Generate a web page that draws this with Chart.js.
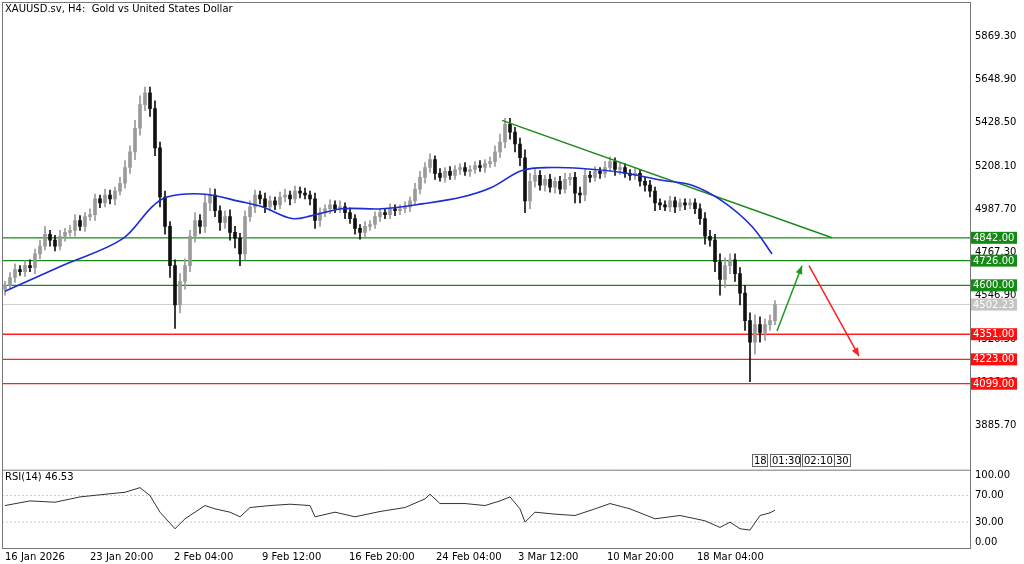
<!DOCTYPE html>
<html><head><meta charset="utf-8">
<script src="https://cdn.jsdelivr.net/npm/chart.js@4/dist/chart.umd.min.js"></script>
<style>html,body{margin:0;padding:0;background:#fff}canvas{display:block}</style>
</head><body>
<div style="width:1024px;height:564px"><canvas id="c"></canvas></div>
<script>
const title = "XAUUSD.sv, H4:  Gold vs United States Dollar";
const closes = [4600,4640,4680,4670,4700,4690,4760,4800,4860,4830,4800,4850,4870,4880,4930,4900,4950,4960,5040,5020,
5060,5040,5080,5120,5200,5280,5400,5520,5580,5500,5300,5050,4900,4700,4500,4620,4700,4850,4930,4900,
5020,5060,4980,4920,4950,4870,4840,4760,4950,5000,5060,5040,5000,5030,5010,5050,5060,5040,5080,5070,
5060,5040,4930,4970,4990,5010,4990,5000,4970,4940,4890,4870,4900,4910,4950,4970,4960,4990,4980,4990,
5000,5030,5090,5150,5200,5240,5170,5150,5180,5160,5190,5200,5180,5190,5210,5200,5220,5230,5280,5330,
5420,5380,5320,5250,5030,5130,5160,5110,5140,5100,5130,5090,5140,5150,5070,5060,5160,5150,5180,5170,
5200,5230,5190,5200,5170,5160,5170,5130,5110,5080,5020,5010,5000,5030,5000,5020,5010,5020,4990,4940,
4850,4830,4720,4630,4700,4730,4660,4560,4420,4310,4400,4360,4400,4420,4502];
const firstOpen = 4580;
const upWick = [20,25,30,20,25,30,25,30,40,20,25,30,20,25,30,25,20,30,25,20,
30,25,20,30,35,30,40,45,30,30,40,30,30,25,30,40,35,30,40,30,
40,35,30,25,30,35,30,25,30,30,25,20,30,25,20,25,30,20,25,20,
25,20,30,25,20,25,20,30,20,25,20,20,25,20,25,20,20,25,20,20,
25,20,30,30,25,30,20,25,20,25,20,20,25,20,20,25,20,25,30,40,
30,30,25,30,40,40,30,25,20,25,20,25,30,20,25,30,30,20,25,20,
30,25,20,25,20,20,25,20,20,25,20,20,20,25,20,20,20,20,20,25,
30,30,30,40,40,30,30,30,40,40,50,40,30,30,20];
const downWick = [30,20,25,20,25,20,30,25,20,30,25,20,25,20,30,20,25,20,30,25,
20,25,30,20,25,30,40,35,30,40,40,50,40,60,120,40,40,30,30,35,
30,40,30,40,30,40,50,60,30,25,30,25,30,20,25,20,25,30,20,25,
20,30,40,30,20,25,20,20,30,25,30,35,25,20,20,25,20,20,25,20,
20,25,20,25,30,25,30,20,25,20,20,25,20,25,20,20,25,20,25,30,
30,35,40,40,60,40,30,25,30,25,30,25,20,30,50,40,30,25,20,25,
20,20,30,25,20,25,20,25,30,30,40,25,20,25,30,20,25,20,25,30,
40,30,50,80,40,40,40,60,50,200,60,50,40,30,20];
const maPts = [[0,4570],[11.4,4700],[23.4,4835],[29.4,5000],[32.4,5050],[39.4,5065],[47.4,5025],[51.4,5000],[57.4,4940],[61.4,4955],[67.4,4990],[75.4,4990],[83.4,5015],[91.4,5050],[97.4,5100],[103.4,5185],[109.4,5200],[115.4,5195],[123.4,5175],[131.4,5135],[137.4,5110],[143.4,5030],[149.4,4900],[153.4,4760]];
const rsiPts = [[0,55],[5,62],[10,60],[15,68],[20,72],[24,75],[27,82],[29,70],[31,45],[34,20],[36,35],[38,45],[40,55],[42,50],[45,45],[47,38],[49,52],[53,55],[57,57],[61,55],[62,38],[66,45],[70,38],[75,46],[80,52],[84,65],[85,72],[87,58],[92,58],[96,55],[99,62],[101,68],[103,50],[104,30],[106,45],[110,42],[114,40],[118,50],[121,58],[125,50],[130,35],[135,40],[140,32],[143,22],[145,30],[147,20],[149,18],[151,40],[153,44],[154,48]];
const greenLevels = [4842,4726,4600];
const redLevels = [4351,4223,4099];
const bidPrice = 4502.23;
const trendLine = [[99.4,5440],[165.4,4842]];
const upArrow = [[154.4,4367],[159.4,4700]];
const downArrow = [[160.8,4700],[170.8,4239]];
const priceTicks = [5869.30,5648.90,5428.50,5208.10,4987.70,4767.30,4546.90,4326.50,4106.10,3885.70];
const rsiTicks = [100,70,30,0];
const dateTicks = [0,17,33.8,51.4,68.8,86.2,102.6,120.4,138.4];
const dateLabels = ["16 Jan 2026","23 Jan 20:00","2 Feb 04:00","9 Feb 12:00","16 Feb 20:00","24 Feb 04:00","3 Mar 12:00","10 Mar 20:00","18 Mar 04:00"];
const rsiLabel = "RSI(14) 46.53";

const XMAX = 193;
const FONT = "'DejaVu Sans'";
const opens = closes.map((c,i)=> i===0 ? firstOpen : closes[i-1]);
const bodies = closes.map((c,i)=>({x:i,y:[opens[i],c]}));
const wicks = closes.map((c,i)=>({x:i,y:[Math.min(opens[i],c)-downWick[i], Math.max(opens[i],c)+upWick[i]]}));
const colOf = closes.map((c,i)=> c>=opens[i] ? '#9a9a9a' : '#111');
const hline = (v,col,w)=>({type:'line',data:[{x:-0.6,y:v},{x:XMAX,y:v}],borderColor:col,borderWidth:w,pointRadius:0,yAxisID:'y',order:5});
const ptsLine = (arr,col,w,yid)=>({type:'line',data:arr.map(p=>({x:p[0],y:p[1]})),borderColor:col,borderWidth:w,pointRadius:0,yAxisID:yid,tension:0.35,order:0});

const datasets = [
  {type:'bar',data:wicks,backgroundColor:colOf,barThickness:1,grouped:false,yAxisID:'y',order:3},
  {type:'bar',data:bodies,backgroundColor:colOf,borderColor:colOf,barThickness:3,grouped:false,yAxisID:'y',order:2,minBarLength:1},
  ...greenLevels.map(v=>hline(v,'#1a8a1a',1.3)),
  ...redLevels.map(v=>hline(v,'#ff2020',1.3)),
  hline(bidPrice,'#cfcfcf',1),
  ptsLine(maPts,'#1c2bd6',1.6,'y'),
  {...ptsLine(trendLine,'#1a8a1a',1.5,'y'),tension:0},
  {...ptsLine(upArrow,'#1a9a1a',1.5,'y'),tension:0},
  {...ptsLine(downArrow,'#ff2020',1.5,'y'),tension:0},
  {...ptsLine(rsiPts,'#333',1,'y2'),tension:0},
  {type:'line',data:[{x:-0.6,y:70},{x:XMAX,y:70}],borderColor:'#c8c8c8',borderDash:[2,2],borderWidth:1,pointRadius:0,yAxisID:'y2'},
  {type:'line',data:[{x:-0.6,y:30},{x:XMAX,y:30}],borderColor:'#c8c8c8',borderDash:[2,2],borderWidth:1,pointRadius:0,yAxisID:'y2'}
];

const overlay = {
  id:'overlay',
  afterDatasetsDraw(ch){
    const c=ch.ctx, y=ch.scales.y, x=ch.scales.x, a=ch.chartArea, y2=ch.scales.y2;
    c.save();
    [[upArrow,'#1a9a1a'],[downArrow,'#ff2020']].forEach(([arr,col])=>{
      const x1=x.getPixelForValue(arr[0][0]), y1=y.getPixelForValue(arr[0][1]);
      const x2=x.getPixelForValue(arr[1][0]), y2p=y.getPixelForValue(arr[1][1]);
      const ang=Math.atan2(y2p-y1,x2-x1);
      c.fillStyle=col;c.beginPath();c.moveTo(x2,y2p);
      c.lineTo(x2-9*Math.cos(ang-0.4),y2p-9*Math.sin(ang-0.4));
      c.lineTo(x2-9*Math.cos(ang+0.4),y2p-9*Math.sin(ang+0.4));
      c.closePath();c.fill();
    });
    c.font='10px '+FONT; c.textBaseline='middle';
    c.strokeStyle='#777';c.lineWidth=1;
    c.beginPath();c.moveTo(a.left,y.bottom+0.5);c.lineTo(a.right,y.bottom+0.5);c.stroke();
    c.strokeRect(a.left+0.5,a.top+0.5,a.right-a.left,a.bottom-a.top);
    const tag=(v,bg,fg)=>{const py=y.getPixelForValue(v);c.fillStyle=bg;c.fillRect(a.right+1,py-6,46,12);c.fillStyle=fg;c.textAlign='left';c.fillText(v.toFixed(2),a.right+3,py+0.5);};
    greenLevels.forEach(v=>tag(v,'#138a13','#fff'));
    redLevels.forEach(v=>tag(v,'#ff1010','#fff'));
    tag(bidPrice,'#c4c4c4','#fff');
    c.fillStyle='#000';c.textAlign='left';
    c.fillText(title,a.left+3,9);
    c.fillText(rsiLabel,a.left+3,y2.top+8);
    c.strokeStyle='#666';c.fillStyle='#000';
    [['18',752,15],['01:30',770,30],['02:10',802,32],['30',834,16]].forEach(([t,px,w])=>{
      c.strokeRect(px+0.5,454.5,w,12);c.fillText(t,px+2,461);
    });
    c.restore();
  }
};

new Chart(document.getElementById('c'),{
  data:{datasets},
  options:{
    responsive:true,maintainAspectRatio:false,animation:false,
    layout:{padding:{left:2,top:2,right:4,bottom:0}},
    plugins:{legend:{display:false},tooltip:{enabled:false}},
    scales:{
      x:{type:'linear',min:-0.6,max:XMAX,offset:false,
        grid:{display:false,drawTicks:false},border:{display:false},
        afterBuildTicks(s){s.ticks=dateTicks.map(v=>({value:v}));},
        afterFit(s){s.height=16;s.paddingLeft=0;s.paddingRight=0;},
        ticks:{autoSkip:false,maxRotation:0,align:'start',padding:3,color:'#000',font:{family:FONT,size:10},
          callback:(v)=>{const k=dateTicks.indexOf(v);return k>=0?dateLabels[k]:'';}}},
      y:{type:'linear',position:'right',stack:'p',stackWeight:466,min:3661,max:6043,
        grid:{display:false,drawTicks:false},border:{color:'#777'},
        afterBuildTicks(s){s.ticks=priceTicks.map(v=>({value:v}));},
        afterFit(s){s.width=50;s.paddingTop=0;s.paddingBottom=0;},
        ticks:{autoSkip:false,color:'#000',padding:5,font:{family:FONT,size:10},callback:v=>v.toFixed(2)}},
      y2:{type:'linear',position:'right',stack:'p',stackWeight:78,min:-9,max:109,
        grid:{display:false,drawTicks:false},border:{color:'#777'},
        afterBuildTicks(s){s.ticks=rsiTicks.map(v=>({value:v}));},
        afterFit(s){s.width=50;s.paddingTop=0;s.paddingBottom=0;},
        ticks:{autoSkip:false,color:'#000',padding:5,font:{family:FONT,size:10},callback:v=>v.toFixed(2)}}
    }
  },
  plugins:[overlay]
});
</script>
</body></html>
